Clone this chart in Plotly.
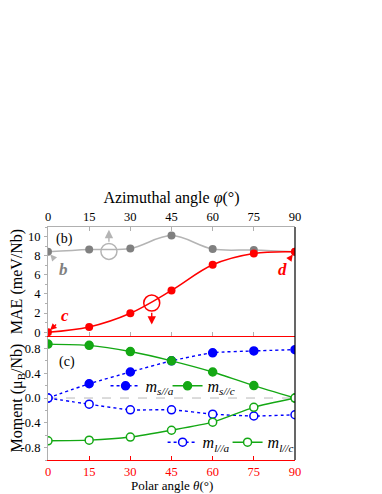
import plotly.graph_objects as go

# angles (deg)
ANGLES = [0, 15, 30, 45, 60, 75, 90]

# (b) MAE, meV/Nb
MAE_AZIMUTHAL = [8.4, 8.65, 8.75, 10.1, 8.7, 8.6, 8.4]   # vs phi
MAE_POLAR = [0.0, 0.55, 1.98, 4.37, 7.05, 8.23, 8.4]     # vs theta

# (c) moments, mu_B/Nb
M_S_A = [0.0, 0.23, 0.42, 0.60, 0.73, 0.76, 0.78]
M_S_C = [0.87, 0.85, 0.75, 0.60, 0.42, 0.20, 0.0]
M_L_A = [0.0, -0.10, -0.19, -0.19, -0.26, -0.29, -0.27]
M_L_C = [-0.69, -0.68, -0.63, -0.52, -0.39, -0.15, 0.0]

TICKS = [0, 15, 30, 45, 60, 75, 90]

RED = "#ff0000"
BLUE = "#0000ff"
GREEN = "#14a814"
GRAY_LINE = "#b4b4b4"
GRAY_MK = "#808080"
AXGRAY = "#b0b0b0"
SERIF = "Liberation Serif, Times New Roman, serif"
FONT = dict(family=SERIF, size=13, color="black")
TICKFONT = dict(family=SERIF, size=12.5, color="black")
SPLIT = 0.532

fig = go.Figure()

# top panel
fig.add_trace(go.Scatter(
    x=ANGLES, y=MAE_AZIMUTHAL, xaxis="x2", yaxis="y2", mode="lines+markers",
    line=dict(color=GRAY_LINE, width=1.5, shape="spline", smoothing=1),
    marker=dict(color=GRAY_MK, size=8), showlegend=False))
fig.add_trace(go.Scatter(
    x=ANGLES, y=MAE_POLAR, xaxis="x2", yaxis="y2", mode="lines+markers",
    line=dict(color=RED, width=1.5, shape="spline", smoothing=1),
    marker=dict(color=RED, size=8), showlegend=False))

# bottom panel, one small legend box per series
def moment(y, color, dash, filled, name, legend):
    return go.Scatter(
        x=ANGLES, y=y, mode="lines+markers", name=name, legend=legend,
        line=dict(color=color, width=1.4, dash=dash, shape="spline", smoothing=0.6),
        marker=dict(size=8, color=color if filled else "white",
                    line=dict(color=color, width=1.5)))

fig.add_trace(moment(M_S_A, BLUE, "dot", True, "<i>m</i><sub><i>s//a</i></sub>", "legend"))
fig.add_trace(moment(M_S_C, GREEN, "solid", True, "<i>m</i><sub><i>s//c</i></sub>", "legend2"))
fig.add_trace(moment(M_L_A, BLUE, "dot", False, "<i>m</i><sub><i>l//a</i></sub>", "legend3"))
fig.add_trace(moment(M_L_C, GREEN, "solid", False, "<i>m</i><sub><i>l//c</i></sub>", "legend4"))

ax_common = dict(range=[0, 90], tickvals=TICKS, ticks="inside", ticklen=4,
                 showgrid=False, zeroline=False, automargin=False)
y_common = dict(ticks="outside", ticklen=3, tickcolor=AXGRAY, showline=True,
                linecolor=AXGRAY, linewidth=1.2, showgrid=False, zeroline=False,
                automargin=False, tickfont=TICKFONT, ticklabelstandoff=1)
leg_font = dict(family=SERIF, size=16)


def leg(x, y):
    return dict(orientation="h", x=x, xanchor="left", y=y, yanchor="middle",
                bgcolor="rgba(0,0,0,0)", font=leg_font, itemwidth=30,
                itemclick=False)


# page body adds an 8 px offset, so the figure is 8 px smaller than the window
fig.update_layout(
    width=374, height=486,
    margin=dict(l=40, r=87, t=219, b=34),
    paper_bgcolor="white", plot_bgcolor="white",
    font=FONT,
    xaxis=dict(**ax_common, anchor="y", showline=True, linecolor=RED, linewidth=1.2,
               tickcolor=RED, tickfont=dict(family=SERIF, size=12.5, color=RED)),
    xaxis2=dict(**ax_common, anchor="y2", side="top", showline=True, linecolor=AXGRAY,
                linewidth=1.2, tickcolor=AXGRAY, tickfont=TICKFONT,
                title=dict(text="Azimuthal angle <i>φ</i>(°)", standoff=2)),
    xaxis3=dict(**ax_common, anchor="y2", overlaying="x2", side="bottom", showline=True,
                linecolor=RED, linewidth=1.2, tickcolor=AXGRAY, showticklabels=False),
    yaxis=dict(**y_common, domain=[0, SPLIT], range=[-1, 1],
               tickvals=[-0.8, -0.4, 0.0, 0.4, 0.8],
               ticktext=["-0.8", "-0.4", "0.0", "0.4", "0.8"],
               minor=dict(ticks="outside", dtick=0.2, ticklen=2, tickcolor=AXGRAY),
               title=dict(text="Moment (μ<sub>B</sub>/Nb)", standoff=5)),
    yaxis2=dict(**y_common, domain=[SPLIT, 1], range=[-0.4, 11],
                tickvals=[0, 2, 4, 6, 8, 10],
                minor=dict(ticks="outside", dtick=1, ticklen=2, tickcolor=AXGRAY),
                title=dict(text="MAE (meV/Nb)", standoff=6)),
    legend=leg(0.233, 0.318),
    legend2=leg(0.484, 0.318),
    legend3=leg(0.464, 0.076),
    legend4=leg(0.727, 0.076),
)

# bottom axis title placed by hand so it clears the tick labels
fig.add_annotation(x=0.5, y=0, xref="paper", yref="paper", yanchor="middle",
                   yshift=-25.5, text="Polar angle <i>θ</i>(°)", showarrow=False,
                   font=dict(family=SERIF, size=13))

# dummy trace so xaxis3 exists
fig.add_trace(go.Scatter(x=[None], y=[None], xaxis="x3", yaxis="y2", showlegend=False))

# black right border, dashed zero line
fig.add_shape(type="line", xref="paper", yref="paper", x0=1, x1=1, y0=0, y1=1,
              line=dict(color="black", width=1.2))
fig.add_shape(type="line", xref="x", yref="y", x0=0, x1=90, y0=0, y1=0,
              line=dict(color="#b8b8b8", width=1, dash="dash"), layer="below")

# indicator circles
for cx, cy, col in [(22.2, 8.45, GRAY_LINE), (37.8, 3.05, RED)]:
    fig.add_shape(type="circle", xref="x2", yref="y2", xsizemode="pixel", ysizemode="pixel",
                  xanchor=cx, yanchor=cy, x0=-8, x1=8, y0=-8, y1=8,
                  line=dict(color=col, width=1.5))

# arrows from circles
fig.add_annotation(x=22.2, y=10.7, ax=22.2, ay=9.3, xref="x2", yref="y2",
                   axref="x2", ayref="y2", showarrow=True, arrowhead=2, arrowsize=1.2,
                   arrowwidth=1.4, arrowcolor=GRAY_LINE, text="")
fig.add_annotation(x=37.8, y=0.8, ax=37.8, ay=2.2, xref="x2", yref="y2",
                   axref="x2", ayref="y2", showarrow=True, arrowhead=2, arrowsize=1.2,
                   arrowwidth=1.4, arrowcolor=RED, text="")

# panel labels
fig.add_annotation(x=6, y=9.7, xref="x2", yref="y2", text="(b)", showarrow=False,
                   font=dict(family=SERIF, size=14))
fig.add_annotation(x=7, y=0.58, xref="x", yref="y", text="(c)", showarrow=False,
                   font=dict(family=SERIF, size=14))

# point labels b, c, d
lab_font = dict(family=SERIF, size=17)
for txt, col, hx, hy, tx, ty in [("b", GRAY_MK, 0.6, 8.2, 5.5, 6.6),
                                 ("c", RED, 0.5, 0.15, 6.3, 1.7),
                                 ("d", RED, 89.4, 8.2, 85.3, 6.6)]:
    fig.add_annotation(x=hx, y=hy, ax=tx, ay=ty, xref="x2", yref="y2", axref="x2",
                       ayref="y2", text=f"<b><i>{txt}</i></b>", showarrow=True,
                       arrowhead=2, arrowsize=1, arrowwidth=1.3,
                       arrowcolor=GRAY_LINE if txt == "b" else col,
                       font=dict(**lab_font, color=col), standoff=1, startstandoff=5)

fig.write_html("out.html")
